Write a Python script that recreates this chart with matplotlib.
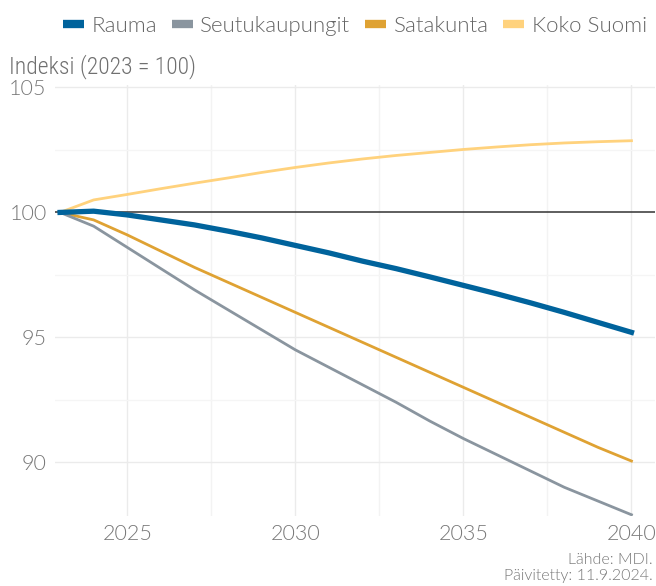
import matplotlib.pyplot as plt
from matplotlib.lines import Line2D

years = list(range(2023, 2041))
rauma = [100, 100.05, 99.9, 99.7, 99.5, 99.25, 98.98, 98.68, 98.38, 98.05,
         97.75, 97.42, 97.08, 96.74, 96.38, 96.0, 95.6, 95.2]
seutukaupungit = [100, 99.45, 98.6, 97.75, 96.9, 96.1, 95.3, 94.5, 93.8, 93.1,
                  92.4, 91.65, 90.95, 90.3, 89.65, 89.0, 88.45, 87.9]
satakunta = [100, 99.7, 99.1, 98.45, 97.8, 97.2, 96.6, 96.0, 95.4, 94.8,
             94.2, 93.6, 93.0, 92.4, 91.8, 91.2, 90.6, 90.05]
koko_suomi = [100, 100.5, 100.72, 100.95, 101.17, 101.38, 101.6, 101.8, 101.98, 102.14,
              102.28, 102.4, 102.52, 102.62, 102.71, 102.78, 102.83, 102.87]

labels = ["Rauma", "Seutukaupungit", "Satakunta", "Koko Suomi"]
colors = ["#00639c", "#8a959f", "#dfa233", "#ffd27d"]
x_ticks = [2025, 2030, 2035, 2040]
y_ticks = [90, 95, 100, 105]

W, H = 656, 586
fig = plt.figure(figsize=(W / 100, H / 100), dpi=100)
ax = fig.add_axes([55 / W, (H - 516) / H, 600 / W, (516 - 85) / H])

# grid
for x in [2025, 2027.5, 2030, 2032.5, 2035, 2037.5, 2040]:
    ax.axvline(x, color="#ebebeb" if x in x_ticks else "#f3f3f3", lw=1.0, zorder=0)
for y in [87.5, 90, 92.5, 95, 97.5, 102.5, 105]:
    ax.axhline(y, color="#ebebeb" if y in y_ticks else "#f5f5f5", lw=1.0, zorder=0)

ax.axhline(100, color="#333333", lw=1.1, zorder=1)

ax.plot(years, koko_suomi, color=colors[3], lw=2.0, zorder=2)
ax.plot(years, satakunta, color=colors[2], lw=2.0, zorder=2)
ax.plot(years, seutukaupungit, color=colors[1], lw=2.0, zorder=2)
ax.plot(years, rauma, color=colors[0], lw=3.8, zorder=3)

ax.set_xlim(2022.85, 2040.7)
ax.set_ylim(87.85, 105.1)
ax.set_xticks(x_ticks)
ax.set_yticks(y_ticks)
for s in ax.spines.values():
    s.set_visible(False)
ax.tick_params(length=0, labelsize=15.5, labelcolor="#777777", pad=6)
for t in ax.get_xticklabels() + ax.get_yticklabels():
    t.set_fontfamily("Lato")
    t.set_fontweight(300)

fig.text(9 / W, 1 - 67 / H, "Indeksi (2023 = 100)", fontsize=17, color="#707070",
         family=["Roboto Condensed", "DejaVu Sans"], weight=300, va="center", ha="left")

handles = [Line2D([0], [0], color=c, lw=6, solid_capstyle="butt") for c in colors]
fig.legend(handles, labels, loc="center", bbox_to_anchor=(355 / W, 1 - 26 / H), ncol=4,
           frameon=False, handlelength=0.95, handletextpad=0.35, columnspacing=0.65,
           prop={"family": "Lato", "size": 16, "weight": 300}, labelcolor="#666666")

fig.text(1 - 3 / W, 1 - 568 / H, "Lähde: MDI.\nPäivitetty: 11.9.2024.", fontsize=11.5,
         color="#777777", family="Lato", weight=300, ha="right", va="center",
         linespacing=1.15)

fig.savefig("out.png", dpi=100)
